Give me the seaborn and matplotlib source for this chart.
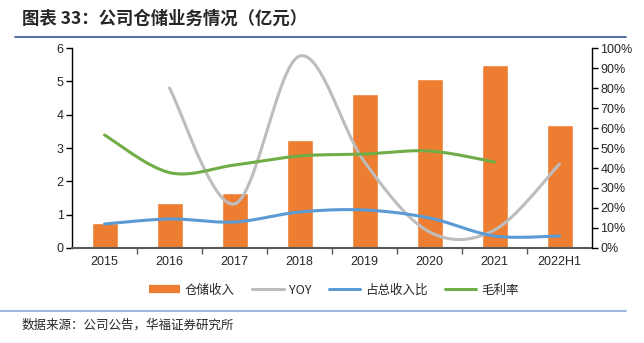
import numpy as np
import pandas as pd
import matplotlib
matplotlib.use("Agg")
import matplotlib.pyplot as plt
import seaborn as sns
from matplotlib.lines import Line2D
from matplotlib.ticker import FuncFormatter, MultipleLocator

years = ["2015", "2016", "2017", "2018", "2019", "2020", "2021", "2022H1"]
revenue = [0.75, 1.35, 1.65, 3.24, 4.62, 5.06, 5.49, 3.68]
yoy = [np.nan, 0.80, 0.22, 0.96, 0.43, 0.08, 0.09, 0.42]
share = [0.12, 0.145, 0.13, 0.18, 0.19, 0.15, 0.06, 0.06]
margin = [0.565, 0.377, 0.415, 0.46, 0.47, 0.485, 0.43, np.nan]

C_BAR = "#ED7D31"
C_YOY = "#BDBDBD"
C_SHARE = "#5B9BD5"
C_MARGIN = "#70AD47"

sns.set_style("white")
plt.rcParams["font.family"] = ["Liberation Sans", "Noto Sans CJK SC", "DejaVu Sans"]
CJK = ["Noto Sans CJK SC", "DejaVu Sans"]


def smooth(xs, ys, n=30):
    xs = np.asarray(xs, float)
    ys = np.asarray(ys, float)
    m = ~np.isnan(ys)
    xs, ys = xs[m], ys[m]
    px = np.concatenate([[xs[0]], xs, [xs[-1]]])
    py = np.concatenate([[ys[0]], ys, [ys[-1]]])
    ox, oy = [], []
    for i in range(1, len(px) - 2):
        p0 = np.array([px[i - 1], py[i - 1]])
        p1 = np.array([px[i], py[i]])
        p2 = np.array([px[i + 1], py[i + 1]])
        p3 = np.array([px[i + 2], py[i + 2]])
        c1 = p1 + (p2 - p0) / 6
        c2 = p2 - (p3 - p1) / 6
        t = np.linspace(0, 1, n)[:, None]
        b = ((1 - t) ** 3) * p1 + 3 * ((1 - t) ** 2) * t * c1 + 3 * (1 - t) * t ** 2 * c2 + t ** 3 * p2
        ox.extend(b[:, 0]); oy.extend(b[:, 1])
    return np.array(ox), np.array(oy)


fig = plt.figure(figsize=(6.44, 3.43), dpi=100)
ax = fig.add_axes([0.1118, 0.277, 0.8075, 0.583])

df = pd.DataFrame({"year": years, "rev": revenue})
sns.barplot(data=df, x="year", y="rev", color=C_BAR, saturation=1, width=0.4, ax=ax, zorder=2)
ax.set_xlim(-0.5, 7.5)
ax.set_ylim(0, 6)
ax.yaxis.set_major_locator(MultipleLocator(1))
ax.set_xlabel("")
ax.set_ylabel("")

ax2 = ax.twinx()
ax2.set_ylim(0, 1)
ax2.yaxis.set_major_locator(MultipleLocator(0.1))
ax2.yaxis.set_major_formatter(FuncFormatter(lambda v, p: f"{v*100:.0f}%"))

xi = np.arange(len(years))
for vals, col in [(yoy, C_YOY), (share, C_SHARE), (margin, C_MARGIN)]:
    sx, sy = smooth(xi, vals)
    sns.lineplot(x=sx, y=sy, sort=False, color=col, linewidth=2.2, ax=ax2, estimator=None)

# spines and ticks
for a in (ax, ax2):
    a.spines["top"].set_visible(False)
for s in ["left", "right"]:
    ax.spines[s].set_color("black")
    ax2.spines[s].set_color("black")
    ax.spines[s].set_linewidth(1.0)
    ax2.spines[s].set_linewidth(1.0)
ax.spines["right"].set_visible(False)
ax2.spines["left"].set_visible(False)
ax.spines["bottom"].set_color("#595959")
ax.spines["bottom"].set_linewidth(1.5)
ax2.spines["bottom"].set_visible(False)

ax.tick_params(axis="y", direction="out", length=4, width=1, color="black", labelsize=9, pad=2, left=True)
ax2.tick_params(axis="y", direction="out", length=4, width=1, color="black", labelsize=9, pad=2, right=True)
ax.set_xticks(xi)
ax.set_xticklabels(years)
ax.tick_params(axis="x", length=0, labelsize=9, pad=6)
ax.set_xticks(np.arange(0.5, 7.5, 1), minor=True)
ax.tick_params(axis="x", which="minor", direction="out", length=4, width=1, color="#595959", bottom=True)
ax.grid(False); ax2.grid(False)

# legend
handles = [
    Line2D([0], [0], color=C_BAR, linewidth=6, solid_capstyle="butt"),
    Line2D([0], [0], color=C_YOY, linewidth=2.2),
    Line2D([0], [0], color=C_SHARE, linewidth=2.2),
    Line2D([0], [0], color=C_MARGIN, linewidth=2.2),
]
labels = ["仓储收入", "YOY", "占总收入比", "毛利率"]
leg = fig.legend(handles, labels, loc="center", bbox_to_anchor=(0.518, 0.154), ncol=4, frameon=False,
                 prop={"family": CJK, "size": 9}, handlelength=2.5, columnspacing=1.4, handletextpad=0.4)

# title and rules
fig.text(0.034, 0.945, "图表 33：公司仓储业务情况（亿元）", fontsize=12.5, fontweight="bold",
         family=CJK, va="center", ha="left")
fig.add_artist(Line2D([0.023, 0.972], [0.892, 0.892], color="#2F5597", linewidth=1.2))
fig.add_artist(Line2D([0.0, 0.972], [0.093, 0.093], color="#8EA9DB", linewidth=1.2))
fig.text(0.034, 0.052, "数据来源：公司公告，华福证券研究所", fontsize=9, family=CJK, va="center", ha="left")

fig.savefig("out.png", dpi=100)
